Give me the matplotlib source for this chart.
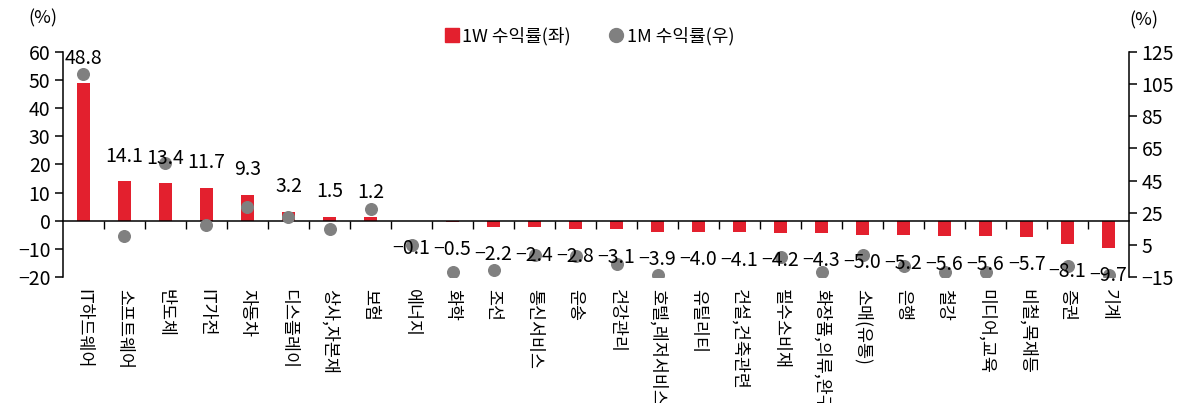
import matplotlib
matplotlib.use("Agg")
import matplotlib.pyplot as plt
import matplotlib.transforms as mtransforms
from matplotlib.lines import Line2D
import numpy as np

plt.rcParams['font.family'] = ['Noto Sans CJK KR', 'DejaVu Sans']

# 업종별 수익률
categories = ['IT하드웨어', '소프트웨어', '반도체', 'IT가전', '자동차', '디스플레이', '상사,자본재',
              '보험', '에너지', '화학', '조선', '통신서비스', '운송', '건강관리', '호텔,레저서비스',
              '유틸리티', '건설,건축관련', '필수소비재', '화장품,의류,완구', '소매(유통)', '은행',
              '철강', '미디어,교육', '비철,목재등', '증권', '기계']
ret_1w = [48.8, 14.1, 13.4, 11.7, 9.3, 3.2, 1.5, 1.2, -0.1, -0.5, -2.2, -2.4, -2.8, -3.1,
          -3.9, -4.0, -4.1, -4.2, -4.3, -5.0, -5.2, -5.6, -5.6, -5.7, -8.1, -9.7]
# 1M 값 중 축 범위(-15) 아래는 그림에 보이지 않음
ret_1m = [111.0, 10.3, 55.7, 17.4, 28.8, 22.5, 14.7, 27.3, 4.9, -12.1, -10.6, -1.3, -1.9, -6.9,
          -13.8, -22.0, -22.0, -2.4, -11.7, -1.3, -8.0, -11.7, -11.7, -22.0, -8.0, -13.8]
left_ticks = [60, 50, 40, 30, 20, 10, 0, -10, -20]
right_ticks = [125, 105, 85, 65, 45, 25, 5, -15]

red = '#E3202E'
gray = '#808080'

fig = plt.figure(figsize=(11.77, 4.03), dpi=100)
ax = fig.add_axes([0.0535, 0.3127, 0.9058, 0.5583])
ax2 = ax.twinx()

x = np.arange(len(categories))
ax.bar(x, ret_1w, width=0.31, color=red, zorder=2)
ax2.scatter(x, ret_1m, s=70, color=gray, zorder=3, clip_on=True)

ax.set_xlim(-0.5, len(categories) - 0.5)
ax.set_ylim(-20, 60)
ax2.set_ylim(-15, 125)
ax.set_yticks(left_ticks)
ax2.set_yticks(right_ticks)
ax.set_yticklabels([f'{v}'.replace('-', '−') for v in left_ticks])
ax2.set_yticklabels([f'{v}'.replace('-', '−') for v in right_ticks])

for a in (ax, ax2):
    a.spines['top'].set_visible(False)
    for s in a.spines.values():
        s.set_linewidth(1.1)
ax.spines['right'].set_visible(False)
ax2.spines['left'].set_visible(False)
ax2.spines['bottom'].set_visible(False)
ax.spines['bottom'].set_position(('data', 0))

ax.tick_params(axis='y', direction='out', length=6, width=1.1, labelsize=14, pad=3)
ax2.tick_params(axis='y', direction='out', length=6, width=1.1, labelsize=14, pad=3)
ax.set_xticks(x)
ax.set_xticks(x[:-1] + 0.5, minor=True)
ax.tick_params(axis='x', which='major', length=0, labelbottom=False)
ax.tick_params(axis='x', which='minor', direction='out', length=6, width=1.0)

# 카테고리 라벨 (세로)
trans = mtransforms.blended_transform_factory(ax.transData, ax.transAxes)
for i, c in enumerate(categories):
    ax.text(i, -0.055, c, transform=trans, rotation=-90, ha='center', va='top',
            fontsize=12.5)

# 데이터 라벨
for i, v in enumerate(ret_1w):
    off = 18 if v >= 0 else -20
    ax2.annotate(f'{v:.1f}'.replace('-', '−'), xy=(i, v), xycoords=ax.transData,
                 xytext=(0, off), textcoords='offset points', ha='center', va='center',
                 fontsize=14, zorder=5)

fig.text(0.024, 0.955, '(%)', fontsize=13, ha='left', va='center')
fig.text(0.972, 0.95, '(%)', fontsize=13, ha='center', va='center')

handles = [Line2D([], [], marker='s', color=red, linestyle='none', markersize=10),
           Line2D([], [], marker='o', color=gray, linestyle='none', markersize=10)]
fig.legend(handles, ['1W 수익률(좌)', '1M 수익률(우)'], loc='center', bbox_to_anchor=(0.5, 0.91),
           ncol=2, frameon=False, fontsize=13, handletextpad=0.1, columnspacing=2.0,
           handlelength=1.0)

fig.savefig('out.png', dpi=100)
